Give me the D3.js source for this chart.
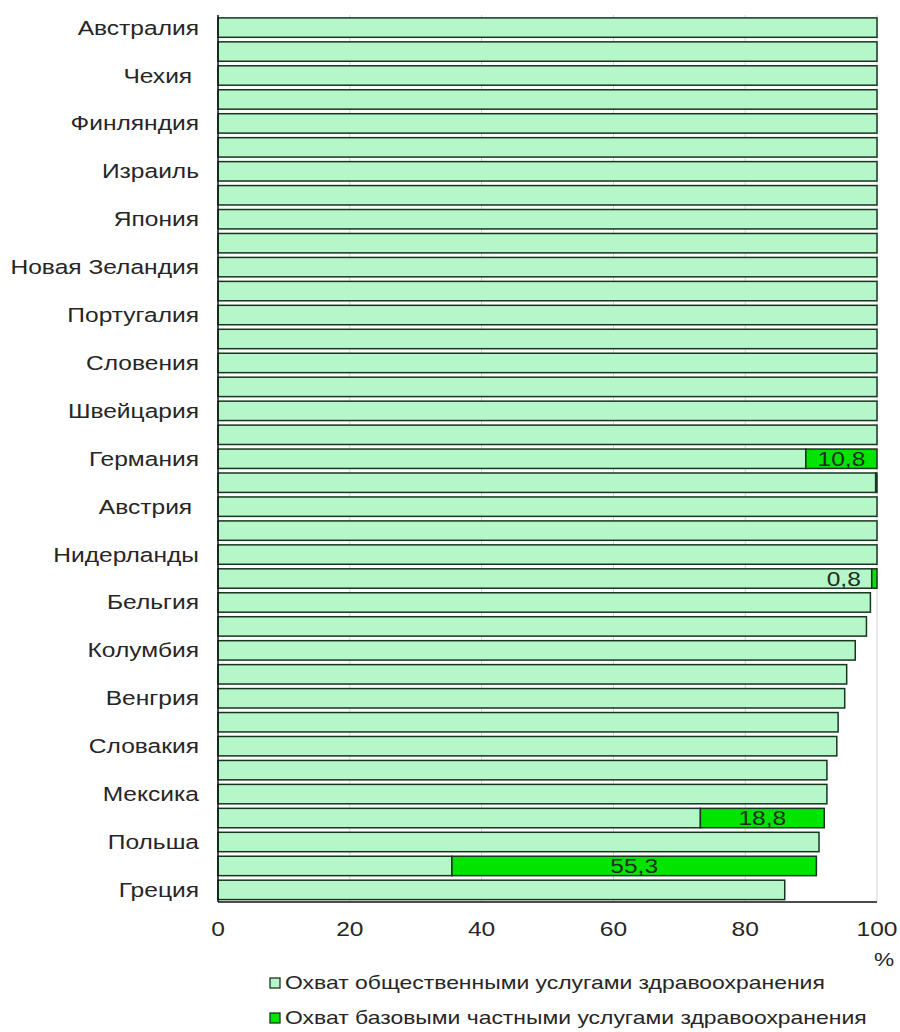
<!DOCTYPE html>
<html>
<head>
<meta charset="utf-8">
<script src="https://cdn.jsdelivr.net/npm/d3@7"></script>
<style>
  html, body { margin: 0; padding: 0; background: #fff; }
  svg { display: block; }
  text { font-family: "Liberation Sans", Arial, sans-serif; white-space: pre; }
</style>
</head>
<body>
<svg id="chart" width="900" height="1032"></svg>
<script>
// Countries from top to bottom; every second bar carries a name on the axis
const countries = [
  "Австралия", "", "Чехия ", "", "Финляндия", "", "Израиль", "", "Япония", "",
  "Новая Зеландия", "", "Португалия", "", "Словения", "", "Швейцария", "",
  "Германия", "", "Австрия ", "", "Нидерланды", "", "Бельгия", "", "Колумбия", "",
  "Венгрия", "", "Словакия", "", "Мексика", "", "Польша", "", "Греция"
];

// Share of population covered by public health services, %
const publicCover = [
  100, 100, 100, 100, 100, 100, 100, 100, 100, 100,
  100, 100, 100, 100, 100, 100, 100, 100,
  89.2, 99.8, 100, 100, 100, 99.2, 99.0, 98.4, 96.7,
  95.4, 95.1, 94.1, 93.9, 92.4, 92.4, 73.2, 91.2, 35.5, 86.0
];

// Share covered by basic private health services, %
const privateCover = [
  0, 0, 0, 0, 0, 0, 0, 0, 0, 0,
  0, 0, 0, 0, 0, 0, 0, 0,
  10.8, 0.2, 0, 0, 0, 0.8, 0, 0, 0,
  0, 0, 0, 0, 0, 0, 18.8, 0, 55.3, 0
];

// Which private segments carry a value label
const privateLabelled = [18, 23, 33, 35];

const xTicks = [0, 20, 40, 60, 80, 100];
const seriesNames = [
  "Охват общественными услугами здравоохранения",
  "Охват базовыми частными услугами здравоохранения"
];

const colPublic = "#b5f7c9";
const colPrivate = "#00e400";
const colEdge = "#16361f";
const textCol = "#262626";
const stretch = 1.26;   // wide lettering

const svg = d3.select("#chart");
const rows = countries.map((c, i) => ({ i, name: c, pub: publicCover[i], priv: privateCover[i] }));

const x = d3.scaleLinear().domain([0, 100]).range([218, 877]);
const y = d3.scaleBand().domain(d3.range(rows.length)).range([15.5, 902])
  .paddingInner(0.19).paddingOuter(0.1);

// vertical grid lines
svg.append("g")
  .selectAll("line")
  .data(xTicks.slice(1))
  .join("line")
  .attr("x1", d => x(d)).attr("x2", d => x(d))
  .attr("y1", 15).attr("y2", 902)
  .attr("stroke", "#d4d4d4").attr("stroke-width", 1);

// public coverage bars
svg.append("g")
  .selectAll("rect")
  .data(rows)
  .join("rect")
  .attr("x", x(0))
  .attr("y", d => y(d.i))
  .attr("width", d => x(d.pub) - x(0))
  .attr("height", y.bandwidth())
  .attr("fill", colPublic)
  .attr("stroke", colEdge)
  .attr("stroke-width", 1.5);

// private coverage segments stacked on the right
svg.append("g")
  .selectAll("rect")
  .data(rows.filter(d => d.priv > 0))
  .join("rect")
  .attr("x", d => x(d.pub))
  .attr("y", d => y(d.i))
  .attr("width", d => x(d.pub + d.priv) - x(d.pub))
  .attr("height", y.bandwidth())
  .attr("fill", colPrivate)
  .attr("stroke", colEdge)
  .attr("stroke-width", 1.5);

const fmt = v => String(v).replace(".", ",");

// value labels on the private segments
svg.append("g")
  .selectAll("text")
  .data(rows.filter(d => privateLabelled.includes(d.i)))
  .join("text")
  .attr("transform", d => {
    const w = x(d.pub + d.priv) - x(d.pub);
    const cx = w < 20 ? x(d.pub) - 28 : x(d.pub + d.priv / 2);
    return `translate(${cx},${y(d.i) + y.bandwidth() / 2 + 7}) scale(${stretch},1)`;
  })
  .attr("text-anchor", "middle")
  .attr("font-size", 19.5)
  .attr("fill", "#1c2e1c")
  .text(d => fmt(d.priv));

// left axis line and category names
svg.append("line")
  .attr("x1", x(0)).attr("x2", x(0))
  .attr("y1", 15).attr("y2", 902)
  .attr("stroke", "#111").attr("stroke-width", 1.5);

svg.append("g")
  .selectAll("text")
  .data(rows.filter(d => d.name !== ""))
  .join("text")
  .attr("transform", d => `translate(199,${y(d.i) + y.bandwidth() / 2 + 7}) scale(${stretch},1)`)
  .attr("text-anchor", "end")
  .attr("font-size", 19.5)
  .attr("fill", textCol)
  .text(d => d.name);

// bottom axis
svg.append("line")
  .attr("x1", x(0)).attr("x2", x(100))
  .attr("y1", 902).attr("y2", 902)
  .attr("stroke", "#111").attr("stroke-width", 1.5);

svg.append("g")
  .selectAll("text")
  .data(xTicks)
  .join("text")
  .attr("transform", d => `translate(${x(d)},936) scale(${stretch},1)`)
  .attr("text-anchor", "middle")
  .attr("font-size", 19.5)
  .attr("fill", textCol)
  .text(d => d);

svg.append("text")
  .attr("transform", `translate(884,966) scale(${stretch},1)`)
  .attr("text-anchor", "middle")
  .attr("font-size", 18)
  .attr("fill", textCol)
  .text("%");

// legend
const legend = svg.append("g")
  .selectAll("g")
  .data(seriesNames)
  .join("g")
  .attr("transform", (d, i) => `translate(270,${978 + i * 35})`);

legend.append("rect")
  .attr("width", 10).attr("height", 10)
  .attr("fill", (d, i) => i === 0 ? colPublic : colPrivate)
  .attr("stroke", colEdge).attr("stroke-width", 1.3);

legend.append("text")
  .attr("transform", `translate(15,11) scale(${stretch},1)`)
  .attr("font-size", 18.2)
  .attr("fill", textCol)
  .text(d => d);
</script>
</body>
</html>
